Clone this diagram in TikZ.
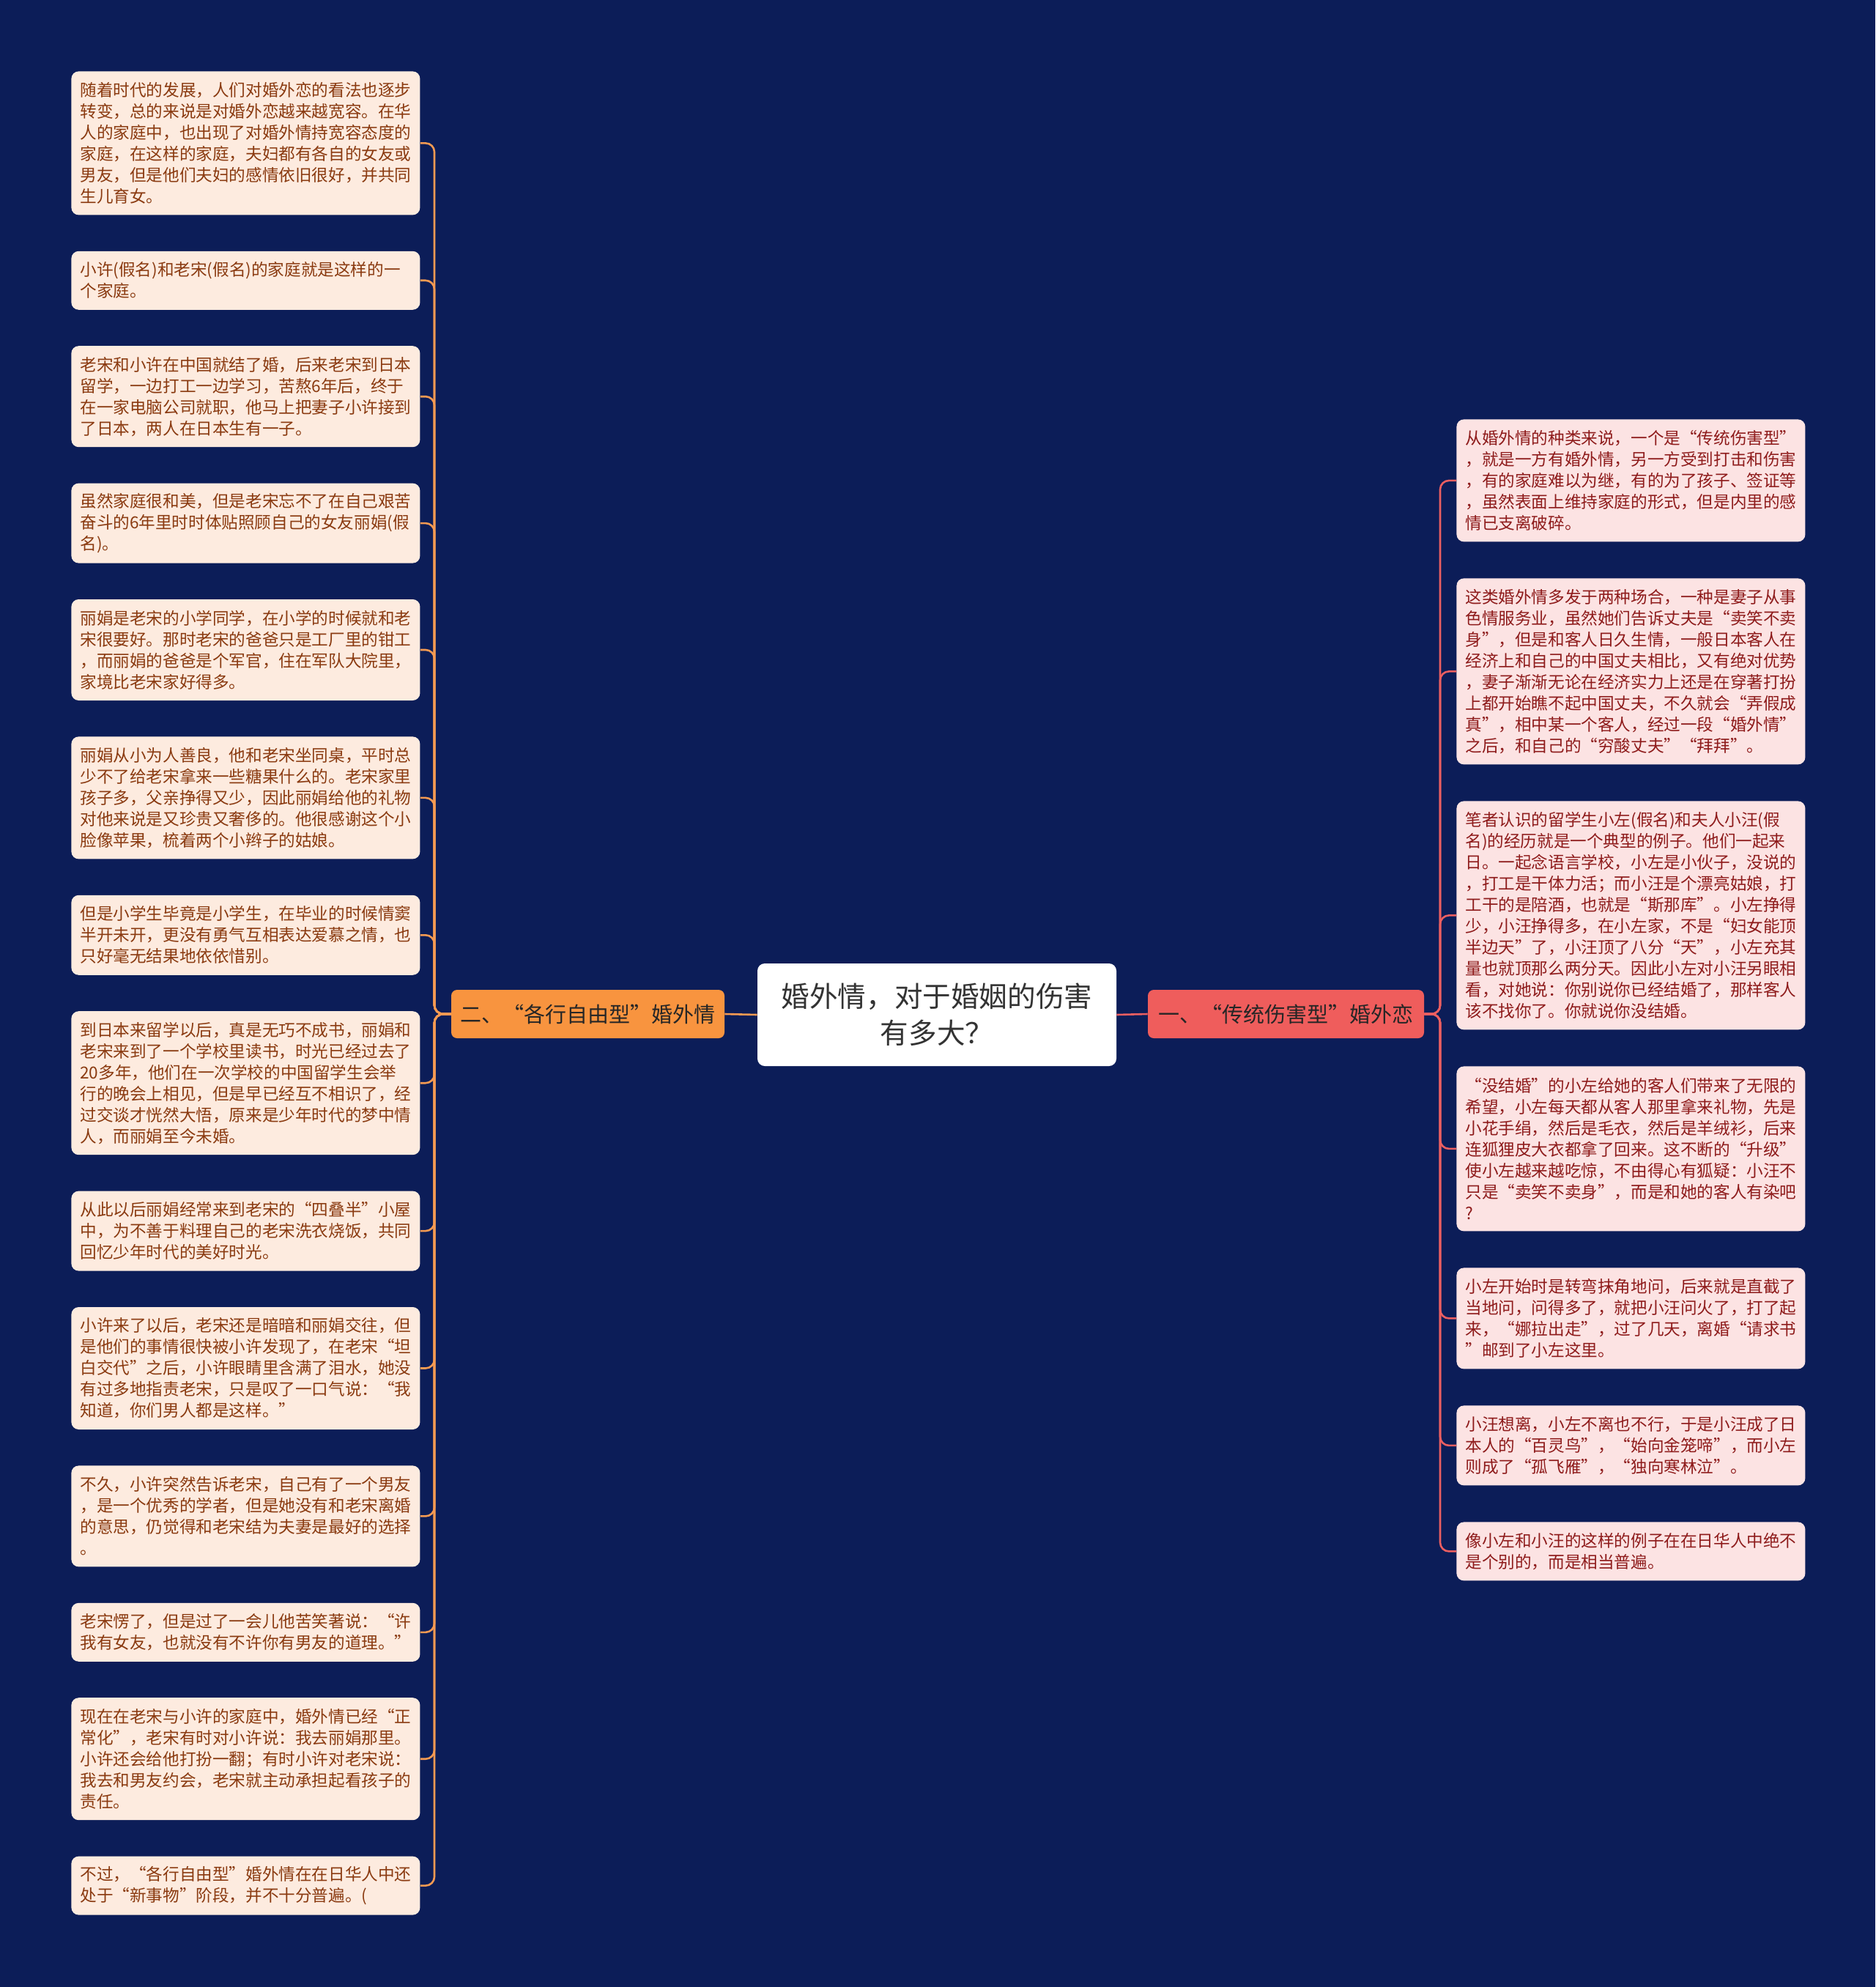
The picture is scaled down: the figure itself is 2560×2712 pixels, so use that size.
\documentclass[tikz,border=0pt]{standalone}
\usepackage{fontspec}
\usepackage{tikz}
\usetikzlibrary{positioning}
\newfontfamily\cjk{Noto Sans CJK SC}

\definecolor{navybg}{HTML}{0C1D58}
\definecolor{peachfill}{HTML}{FDEBDF}
\definecolor{pinkfill}{HTML}{FCE3E3}
\definecolor{browntext}{HTML}{8A3A10}
\definecolor{redtext}{HTML}{8E1B1B}
\definecolor{orangeline}{HTML}{F59A52}
\definecolor{redline}{HTML}{EC5F61}
\definecolor{orangebranch}{HTML}{F8943F}
\definecolor{redbranch}{HTML}{EF5D5C}

\tikzset{
  leaf/.style={rounded corners=5pt, text width=226pt, align=left,
    inner xsep=6pt, inner ysep=1pt, minimum height=#1*14.5pt+11pt,
    font=\cjk\fontsize{11.3}{14.5}\selectfont},
  lleaf/.style={leaf=#1, fill=peachfill, text=browntext},
  rleaf/.style={leaf=#1, fill=pinkfill, text=redtext},
  hub/.style={fill=white, rounded corners=5pt, minimum width=245pt,
    minimum height=70pt, align=center, text=black!80,
    font=\cjk\fontsize{19.3}{25}\selectfont},
  branch/.style={rounded corners=4pt, minimum height=33pt, text=black!85,
    font=\cjk\fontsize{14.5}{17}\selectfont},
  orangelink/.style={draw=orangeline, line width=1.3pt, rounded corners=6pt},
  redlink/.style={draw=redline, line width=1.3pt, rounded corners=6pt}
}

\begin{document}
\begin{tikzpicture}[x=0.5pt,y=-0.5pt]
  \fill[navybg] (0,0) rectangle (2560,2712);

  % centre and the two branches
  \node[hub] (hub) at (1279,1385) {婚外情，对于婚姻的伤害\\有多大？};
  \node[branch, fill=orangebranch, minimum width=186.5pt] (lb) at (802.5,1384) {二、“各行自由型”婚外情};
  \node[branch, fill=redbranch, minimum width=188.5pt] (rb) at (1755.5,1384) {一、“传统伤害型”婚外恋};
  \draw[orangelink] (hub.west) -- (lb.east);
  \draw[redlink] (hub.east) -- (rb.west);

  % left column
  \node[lleaf=6, anchor=north west] (L1) at (97,97) {随着时代的发展，人们对婚外恋的看法也逐步\\转变，总的来说是对婚外恋越来越宽容。在华\\人的家庭中，也出现了对婚外情持宽容态度的\\家庭，在这样的家庭，夫妇都有各自的女友或\\男友，但是他们夫妇的感情依旧很好，并共同\\生儿育女。};
  \node[lleaf=2, below=24.3pt of L1] (L2) {小许(假名)和老宋(假名)的家庭就是这样的一\\个家庭。};
  \node[lleaf=4, below=24.3pt of L2] (L3) {老宋和小许在中国就结了婚，后来老宋到日本\\留学，一边打工一边学习，苦熬6年后，终于\\在一家电脑公司就职，他马上把妻子小许接到\\了日本，两人在日本生有一子。};
  \node[lleaf=3, below=24.3pt of L3] (L4) {虽然家庭很和美，但是老宋忘不了在自己艰苦\\奋斗的6年里时时体贴照顾自己的女友丽娟(假\\名)。};
  \node[lleaf=4, below=24.3pt of L4] (L5) {丽娟是老宋的小学同学，在小学的时候就和老\\宋很要好。那时老宋的爸爸只是工厂里的钳工\\，而丽娟的爸爸是个军官，住在军队大院里，\\家境比老宋家好得多。};
  \node[lleaf=5, below=24.3pt of L5] (L6) {丽娟从小为人善良，他和老宋坐同桌，平时总\\少不了给老宋拿来一些糖果什么的。老宋家里\\孩子多，父亲挣得又少，因此丽娟给他的礼物\\对他来说是又珍贵又奢侈的。他很感谢这个小\\脸像苹果，梳着两个小辫子的姑娘。};
  \node[lleaf=3, below=24.3pt of L6] (L7) {但是小学生毕竟是小学生，在毕业的时候情窦\\半开未开，更没有勇气互相表达爱慕之情，也\\只好毫无结果地依依惜别。};
  \node[lleaf=6, below=24.3pt of L7] (L8) {到日本来留学以后，真是无巧不成书，丽娟和\\老宋来到了一个学校里读书，时光已经过去了\\20多年，他们在一次学校的中国留学生会举\\行的晚会上相见，但是早已经互不相识了，经\\过交谈才恍然大悟，原来是少年时代的梦中情\\人，而丽娟至今未婚。};
  \node[lleaf=3, below=24.3pt of L8] (L9) {从此以后丽娟经常来到老宋的“四叠半”小屋\\中，为不善于料理自己的老宋洗衣烧饭，共同\\回忆少年时代的美好时光。};
  \node[lleaf=5, below=24.3pt of L9] (L10) {小许来了以后，老宋还是暗暗和丽娟交往，但\\是他们的事情很快被小许发现了，在老宋“坦\\白交代”之后，小许眼睛里含满了泪水，她没\\有过多地指责老宋，只是叹了一口气说：“我\\知道，你们男人都是这样。”};
  \node[lleaf=4, below=24.3pt of L10] (L11) {不久，小许突然告诉老宋，自己有了一个男友\\，是一个优秀的学者，但是她没有和老宋离婚\\的意思，仍觉得和老宋结为夫妻是最好的选择\\。};
  \node[lleaf=2, below=24.3pt of L11] (L12) {老宋愣了，但是过了一会儿他苦笑著说：“许\\我有女友，也就没有不许你有男友的道理。”};
  \node[lleaf=5, below=24.3pt of L12] (L13) {现在在老宋与小许的家庭中，婚外情已经“正\\常化”，老宋有时对小许说：我去丽娟那里。\\小许还会给他打扮一翻；有时小许对老宋说：\\我去和男友约会，老宋就主动承担起看孩子的\\责任。};
  \node[lleaf=2, below=24.3pt of L13] (L14) {不过，“各行自由型”婚外情在在日华人中还\\处于“新事物”阶段，并不十分普遍。(};

  % right column
  \node[rleaf=5, anchor=north west] (R1) at (1988,572) {从婚外情的种类来说，一个是“传统伤害型”\\，就是一方有婚外情，另一方受到打击和伤害\\，有的家庭难以为继，有的为了孩子、签证等\\，虽然表面上维持家庭的形式，但是内里的感\\情已支离破碎。};
  \node[rleaf=8, below=24.6pt of R1] (R2) {这类婚外情多发于两种场合，一种是妻子从事\\色情服务业，虽然她们告诉丈夫是“卖笑不卖\\身”，但是和客人日久生情，一般日本客人在\\经济上和自己的中国丈夫相比，又有绝对优势\\，妻子渐渐无论在经济实力上还是在穿著打扮\\上都开始瞧不起中国丈夫，不久就会“弄假成\\真”，相中某一个客人，经过一段“婚外情”\\之后，和自己的“穷酸丈夫”“拜拜”。};
  \node[rleaf=10, below=24.6pt of R2] (R3) {笔者认识的留学生小左(假名)和夫人小汪(假\\名)的经历就是一个典型的例子。他们一起来\\日。一起念语言学校，小左是小伙子，没说的\\，打工是干体力活；而小汪是个漂亮姑娘，打\\工干的是陪酒，也就是“斯那库”。小左挣得\\少，小汪挣得多，在小左家，不是“妇女能顶\\半边天”了，小汪顶了八分“天”，小左充其\\量也就顶那么两分天。因此小左对小汪另眼相\\看，对她说：你别说你已经结婚了，那样客人\\该不找你了。你就说你没结婚。};
  \node[rleaf=7, below=24.6pt of R3] (R4) {“没结婚”的小左给她的客人们带来了无限的\\希望，小左每天都从客人那里拿来礼物，先是\\小花手绢，然后是毛衣，然后是羊绒衫，后来\\连狐狸皮大衣都拿了回来。这不断的“升级”\\使小左越来越吃惊，不由得心有狐疑：小汪不\\只是“卖笑不卖身”，而是和她的客人有染吧\\?};
  \node[rleaf=4, below=24.6pt of R4] (R5) {小左开始时是转弯抹角地问，后来就是直截了\\当地问，问得多了，就把小汪问火了，打了起\\来，“娜拉出走”，过了几天，离婚“请求书\\”邮到了小左这里。};
  \node[rleaf=3, below=24.6pt of R5] (R6) {小汪想离，小左不离也不行，于是小汪成了日\\本人的“百灵鸟”，“始向金笼啼”，而小左\\则成了“孤飞雁”，“独向寒林泣”。};
  \node[rleaf=2, below=24.6pt of R6] (R7) {像小左和小汪的这样的例子在在日华人中绝不\\是个别的，而是相当普遍。};

  % connectors to the leaves
  \coordinate (ltrunk) at (593,1384);
  \coordinate (rtrunk) at (1966,1384);
  \foreach \i in {1,...,14}
    \draw[orangelink] (lb.west) -- (ltrunk) |- (L\i.east);
  \foreach \i in {1,...,7}
    \draw[redlink] (rb.east) -- (rtrunk) |- (R\i.west);
\end{tikzpicture}
\end{document}
